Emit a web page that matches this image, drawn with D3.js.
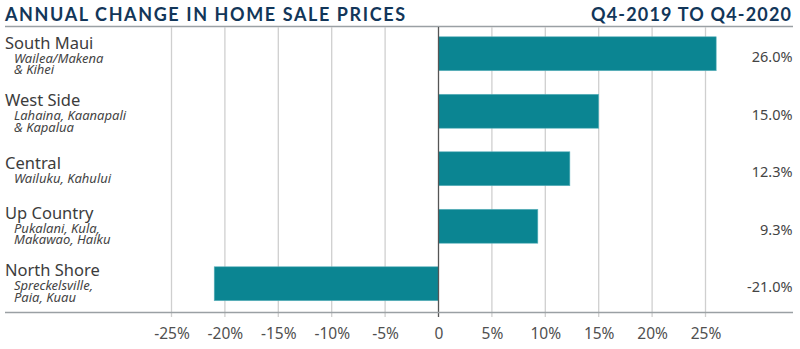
<!DOCTYPE html>
<html>
<head>
<meta charset="utf-8">
<script src="https://cdn.jsdelivr.net/npm/d3@7/dist/d3.min.js"></script>
<style>
  html, body { margin: 0; padding: 0; background: #fff; }
  svg { display: block; }
</style>
</head>
<body>
<svg id="chart" width="800" height="349"></svg>
<script>
const regions = ["South Maui", "West Side", "Central", "Up Country", "North Shore"];
const subLabels = [
  ["Wailea/Makena", "& Kihei"],
  ["Lahaina, Kaanapali", "& Kapalua"],
  ["Wailuku, Kahului"],
  ["Pukalani, Kula,", "Makawao, Haiku"],
  ["Spreckelsville,", "Paia, Kuau"]
];
const changes = [26.0, 15.0, 12.3, 9.3, -21.0];
const tickValues = [-25, -20, -15, -10, -5, 0, 5, 10, 15, 20, 25];
const titleLeft = "ANNUAL CHANGE IN HOME SALE PRICES";
const titleRight = "Q4-2019 TO Q4-2020";

const W = 800, H = 349;
const svg = d3.select("#chart");
const labelFont = "'Noto Sans', 'Open Sans', sans-serif";
const titleFont = "Lato, 'Noto Sans', sans-serif";

const x = d3.scaleLinear().domain([-25, 25]).range([171.5, 705.5]);
const y = d3.scaleBand().domain(regions).range([25, 312.5]).paddingInner(0.41).paddingOuter(0.205);

const gridTop = 27, axisY = 312.5;

// Titles
svg.append("text")
  .attr("x", 5).attr("y", 21)
  .attr("font-family", titleFont)
  .attr("font-weight", 700)
  .attr("font-size", 18)
  .attr("fill", "#123659")
  .attr("textLength", 400).attr("lengthAdjust", "spacing")
  .text(titleLeft);
svg.append("text")
  .attr("x", 591).attr("y", 21)
  .attr("font-family", titleFont)
  .attr("font-weight", 700)
  .attr("font-size", 18)
  .attr("fill", "#123659")
  .attr("textLength", 200).attr("lengthAdjust", "spacing")
  .text(titleRight);

// Title rule
svg.append("line")
  .attr("x1", 5).attr("x2", 793)
  .attr("y1", 26.5).attr("y2", 26.5)
  .attr("stroke", "#9aa0a4").attr("stroke-width", 1.5);

// Gridlines
svg.append("g").selectAll("line")
  .data(tickValues.filter(d => d !== 0))
  .join("line")
  .attr("x1", d => x(d)).attr("x2", d => x(d))
  .attr("y1", gridTop).attr("y2", axisY + 4.5)
  .attr("stroke", "#cfcfcf").attr("stroke-width", 1.3);

// Bars
svg.append("g").selectAll("rect")
  .data(regions)
  .join("rect")
  .attr("x", (d, i) => Math.min(x(0), x(changes[i])))
  .attr("width", (d, i) => Math.abs(x(changes[i]) - x(0)))
  .attr("y", d => y(d))
  .attr("height", y.bandwidth())
  .attr("fill", "#0b8592")
  .attr("stroke", "#5fb3bd").attr("stroke-width", 0.6);

// Zero line
svg.append("line")
  .attr("x1", x(0)).attr("x2", x(0))
  .attr("y1", gridTop).attr("y2", axisY + 4.5)
  .attr("stroke", "#555").attr("stroke-width", 1.3);

// Bottom axis line
svg.append("line")
  .attr("x1", 5).attr("x2", 793)
  .attr("y1", axisY).attr("y2", axisY)
  .attr("stroke", "#9aa0a4").attr("stroke-width", 1.3);

// Axis tick labels via d3 axis
const axis = d3.axisBottom(x)
  .tickValues(tickValues)
  .tickSize(0)
  .tickPadding(0)
  .tickFormat(d => d === 0 ? "0" : d + "%");
const ag = svg.append("g").attr("transform", `translate(0, ${axisY})`).call(axis);
ag.select(".domain").remove();
ag.selectAll("text")
  .attr("y", 26.5).attr("dy", null)
  .attr("font-family", labelFont)
  .attr("font-size", 15.5)
  .attr("fill", "#505050");

// Category labels
const lab = svg.append("g");
regions.forEach((r, i) => {
  const n = subLabels[i].length;
  const c = y(r) + y.bandwidth() / 2;
  const base = c - 5 + (2 - n) * 5.5 - (i >= 3 ? 2.5 : 0);
  lab.append("text")
    .attr("x", 5).attr("y", base)
    .attr("font-family", labelFont)
    .attr("font-size", 16.5)
    .attr("fill", "#3c3c3c")
    .text(r);
  subLabels[i].forEach((s, j) => {
    lab.append("text")
      .attr("x", 14).attr("y", base + 14.2 + j * 11.4)
      .attr("font-family", labelFont)
      .attr("font-style", "italic")
      .attr("font-size", 13)
      .attr("fill", "#444")
      .text(s);
  });
});

// Value labels
svg.append("g").selectAll("text")
  .data(regions)
  .join("text")
  .attr("x", 792.5)
  .attr("y", d => y(d) + y.bandwidth() / 2 + 8.5)
  .attr("text-anchor", "end")
  .attr("font-family", labelFont)
  .attr("font-size", 14.5)
  .attr("fill", "#444")
  .text((d, i) => changes[i].toFixed(1) + "%");
</script>
</body>
</html>
